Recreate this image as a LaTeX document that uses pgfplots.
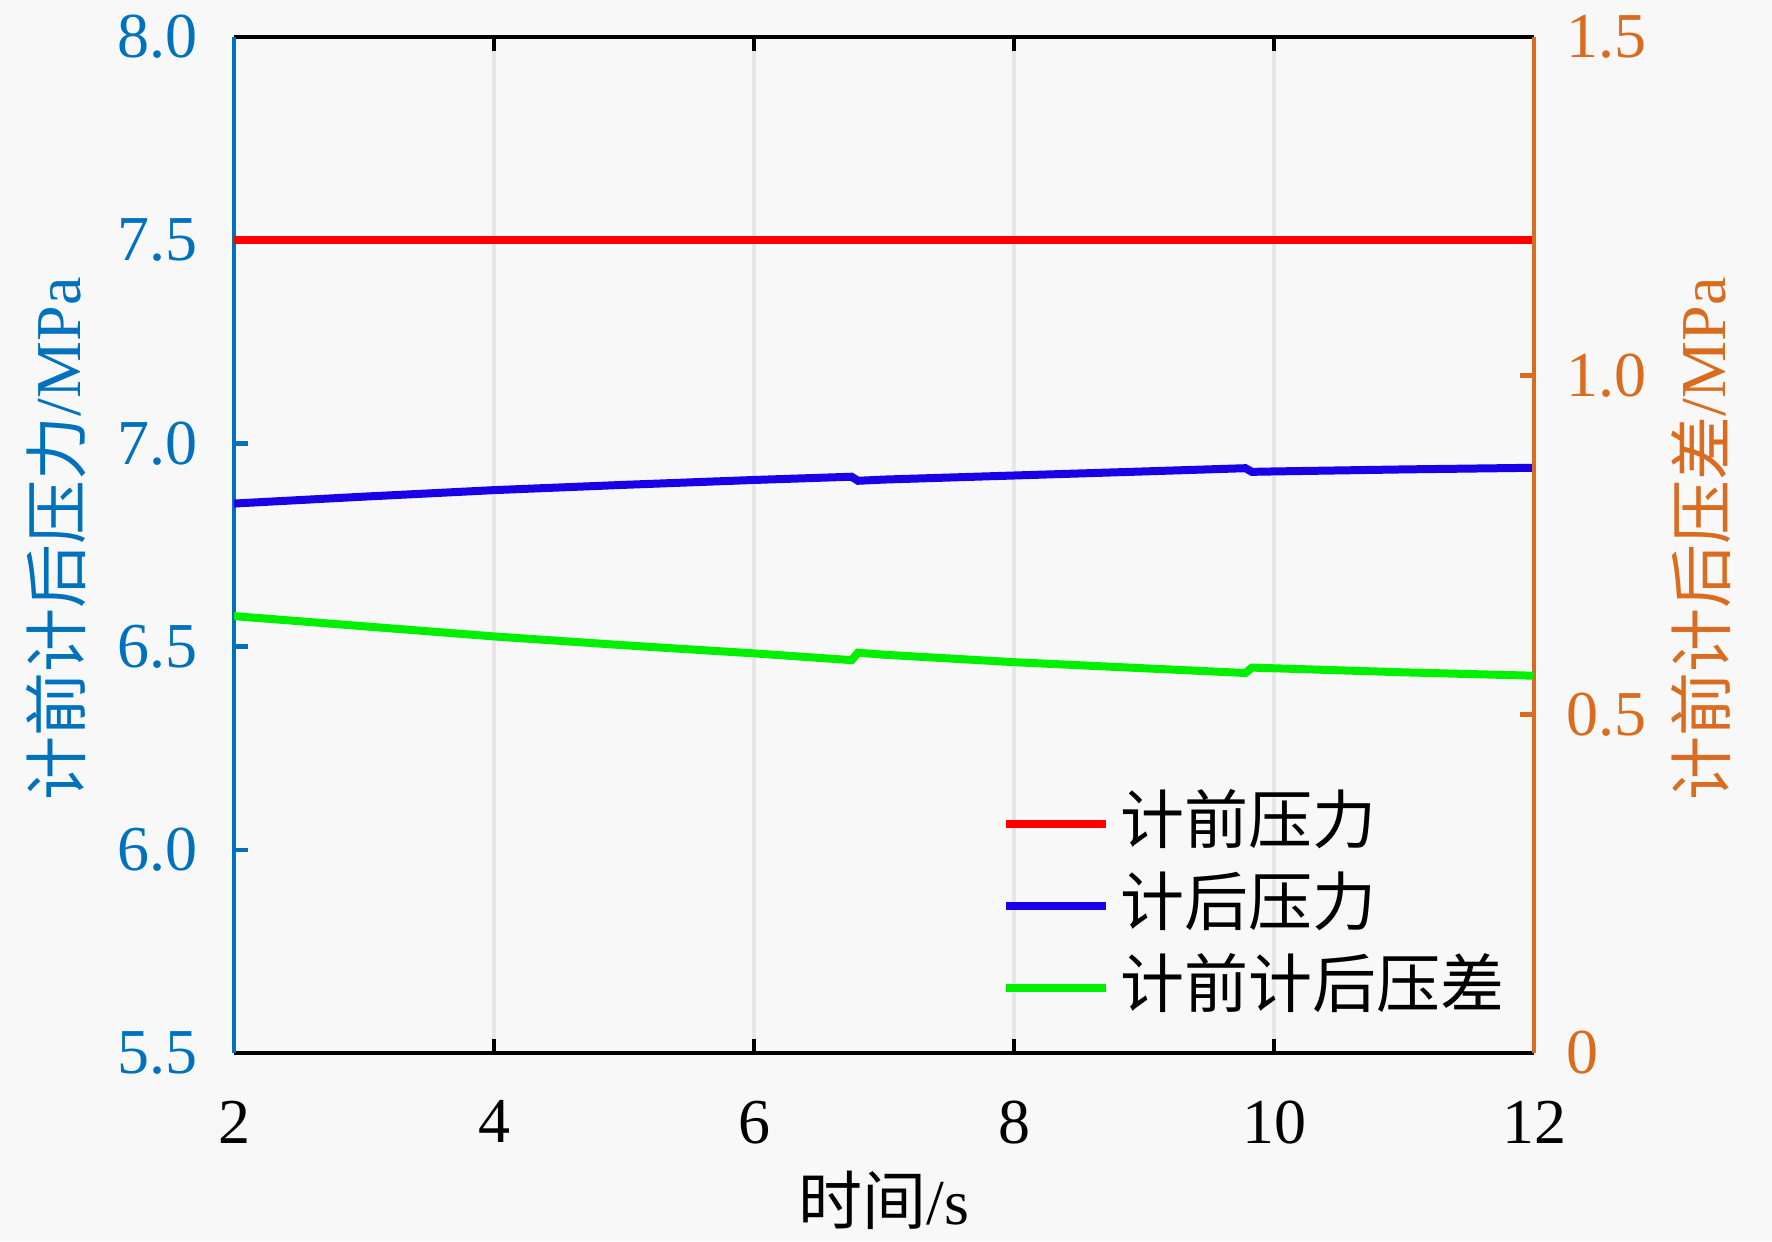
\documentclass[border=0pt]{standalone}
\usepackage{fontspec}
\setmainfont{Liberation Serif}
\newfontfamily\cjk{Noto Sans CJK SC}
\usepackage{pgfplots}
\pgfplotsset{compat=1.18}
\definecolor{leftc}{RGB}{0,114,189}
\definecolor{rightc}{RGB}{217,108,30}
\definecolor{bgc}{RGB}{248,248,248}
\definecolor{gridc}{RGB}{230,230,230}
\definecolor{bluec}{RGB}{25,0,230}
\definecolor{greenc}{RGB}{0,240,0}

\pgfplotstableread{
x y
2 6.852
3 6.869
4 6.885
5 6.898
6 6.910
6.75 6.918
6.8 6.908
7 6.911
8 6.921
9 6.931
9.78 6.939
9.83 6.930
10 6.931
11 6.936
12 6.940
}\blueTable

\pgfplotstableread{
x y
2 0.645
3 0.630
4 0.615
5 0.602
6 0.590
6.75 0.580
6.8 0.591
7 0.588
8 0.577
9 0.568
9.78 0.561
9.83 0.569
10 0.568
11 0.562
12 0.557
}\greenTable

\pgfplotsset{
  common/.style={
    scale only axis, width=325pt, height=254pt,
    xmin=2, xmax=12,
    font=\fontsize{16pt}{19pt}\selectfont,
    /pgf/number format/assume math mode=true,
    tick align=inside,
    major tick length=3.4pt,
  }
}

\begin{document}
\fontsize{16pt}{19pt}\selectfont
\begin{tikzpicture}
\fill[bgc] (-58.5pt,-47pt) rectangle (384.5pt,263.25pt);
\begin{axis}[common,
  ymin=5.5, ymax=8,
  separate axis lines,
  x axis line style={black, line width=1.1pt},
  y axis line style={leftc, line width=1.1pt},
  xtick={2,4,...,12},
  xtick pos=both,
  x tick style={black, line width=1.1pt},
  xmajorgrids,
  grid style={gridc, line width=1pt},
  ytick={6,6.5,7,7.5},
  extra y ticks={5.5,8},
  extra y tick style={major tick length=0pt},
  ytick pos=left,
  y tick style={leftc, line width=1.1pt},
  yticklabel style={leftc, /pgf/number format/.cd, fixed, fixed zerofill, precision=1, /tikz/.cd, xshift=-3.7pt},
  xticklabel style={black, yshift=-6.4pt},
  xlabel={{\cjk 时间}/s},
  xlabel style={at={(axis description cs:0.5,-0.1447)}, anchor=center},
  ylabel={{\cjk 计前计后压力}/MPa},
  ylabel style={leftc, at={(axis description cs:-0.137,0.506)}, anchor=center, rotate=0},
]
\addplot[red, line width=2pt] coordinates {(2,7.5) (12,7.5)};
\addplot[bluec, line width=2pt] table[x=x,y=y] {\blueTable};
\end{axis}
\begin{axis}[common,
  ymin=0, ymax=1.5,
  axis x line=none,
  axis y line*=right,
  y axis line style={rightc, line width=1.1pt},
  ytick={0.5,1},
  yticklabels={0.5,1.0},
  extra y ticks={0,1.5},
  extra y tick labels={0,1.5},
  extra y tick style={major tick length=0pt},
  y tick style={rightc, line width=1.1pt},
  yticklabel style={rightc, xshift=2.7pt},
  ylabel={{\cjk 计前计后压差}/MPa},
  ylabel style={rightc, at={(axis description cs:1.1285,0.506)}, anchor=center, rotate=0},
  legend style={at={(axis description cs:0.590,0.258)}, anchor=north west, draw=none, fill=none,
    inner sep=0pt, row sep=4.5pt, column sep=2.6pt,
    nodes={inner sep=0pt, text height=13pt, text depth=3pt},
    font=\fontsize{16pt}{19pt}\selectfont\cjk},
  legend cell align=left,
  legend image code/.code={\draw[#1] (0pt,0pt) -- (25pt,0pt);},
]
\addlegendimage{red, line width=2pt}
\addlegendentry{计前压力}
\addlegendimage{bluec, line width=2pt}
\addlegendentry{计后压力}
\addplot[greenc, line width=2pt] table[x=x,y=y] {\greenTable};
\addlegendentry{计前计后压差}
\end{axis}
\pgfresetboundingbox
\useasboundingbox (-58.5pt,-47pt) rectangle (384.5pt,263.25pt);
\end{tikzpicture}
\end{document}
